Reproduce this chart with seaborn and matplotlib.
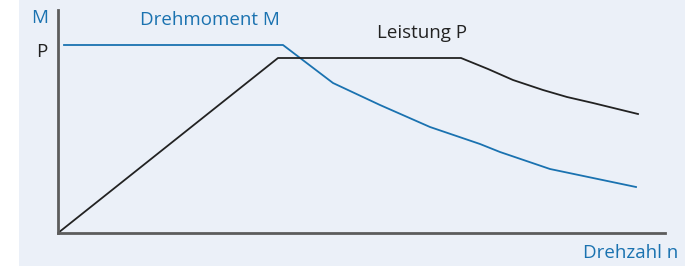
import seaborn as sns
import pandas as pd
import matplotlib.pyplot as plt
from matplotlib.patches import Rectangle

# Drehmoment M (torque) curve, arbitrary units
m_n = [6, 225, 275, 322, 372, 422, 442, 492, 535, 578]
m_val = [188, 188, 150, 128, 106, 89, 81, 64, 55, 46]

# Leistung P (power) curve
p_n = [0, 220, 403, 430, 455, 485, 509, 535, 580]
p_val = [0, 175, 175, 164, 153, 143, 136, 130, 119]

blue = '#1a72b0'
dark = '#222222'
panel = '#ebf0f8'
axis_col = '#5c5c5c'

df_m = pd.DataFrame({'n': m_n, 'val': m_val})
df_p = pd.DataFrame({'n': p_n, 'val': p_val})

plt.rcParams['font.family'] = ['Open Sans', 'DejaVu Sans']

fig = plt.figure(figsize=(6.85, 2.66), dpi=100, facecolor='white')
fig.patches.append(Rectangle((19 / 685, 0), 1, 1, transform=fig.transFigure,
                             facecolor=panel, edgecolor='none', zorder=-10))

W, H = 685, 266
ax = fig.add_axes([58 / W, (H - 233) / H, 607 / W, 223 / H])
ax.set_facecolor('none')
ax.set_zorder(5)

sns.lineplot(data=df_m, x='n', y='val', sort=False, estimator=None,
             color=blue, linewidth=1.3, ax=ax)
sns.lineplot(data=df_p, x='n', y='val', sort=False, estimator=None,
             color=dark, linewidth=1.3, ax=ax)

ax.set_xlim(0, 607)
ax.set_ylim(0, 223)
ax.set_xticks([])
ax.set_yticks([])
ax.set_xlabel('')
ax.set_ylabel('')
for s in ['top', 'right']:
    ax.spines[s].set_visible(False)
for s in ['left', 'bottom']:
    ax.spines[s].set_color(axis_col)
    ax.spines[s].set_linewidth(2)

fs = 13.5
fig.text(40 / W, 1 - 18 / H, 'M', color=blue, fontsize=fs, ha='center', va='center', zorder=6)
fig.text(42 / W, 1 - 52 / H, 'P', color=dark, fontsize=fs, ha='center', va='center', zorder=6)
fig.text(210 / W, 1 - 20 / H, 'Drehmoment M', color=blue, fontsize=fs, ha='center', va='center', zorder=6)
fig.text(422 / W, 1 - 33 / H, 'Leistung P', color=dark, fontsize=fs, ha='center', va='center', zorder=6)
fig.text(678 / W, 1 - 253 / H, 'Drehzahl n', color=blue, fontsize=fs, ha='right', va='center', zorder=6)

fig.savefig('out.png', dpi=100, facecolor='white')
